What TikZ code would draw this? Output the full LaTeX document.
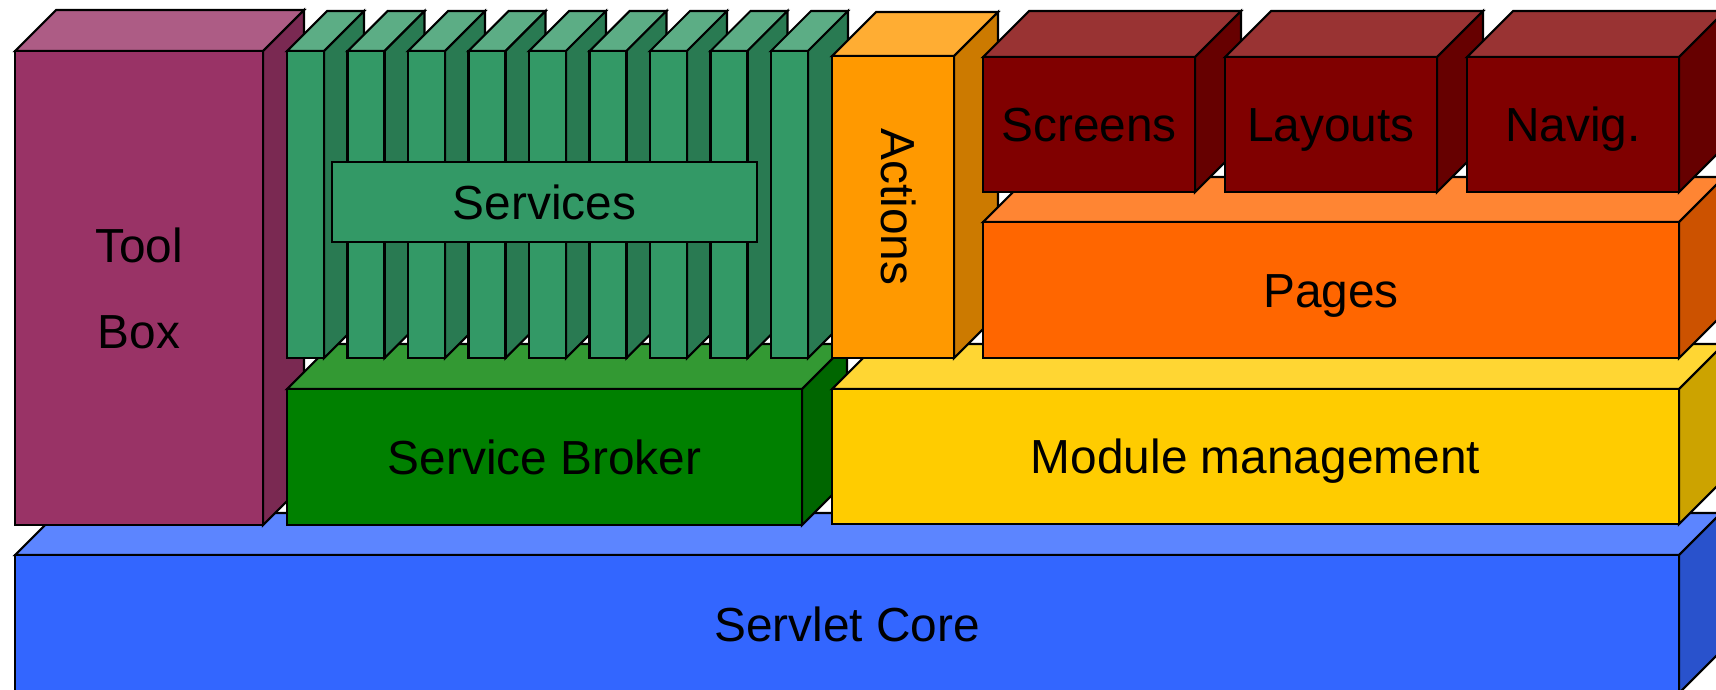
\documentclass[tikz,border=0pt]{standalone}
\usepackage{fontspec}
\setmainfont{Liberation Sans}
\definecolor{corecol}{HTML}{3366FF}
\definecolor{toolcol}{HTML}{993366}
\definecolor{brokercol}{HTML}{008000}
\definecolor{servicecol}{HTML}{339966}
\definecolor{modulecol}{HTML}{FFCC00}
\definecolor{actioncol}{HTML}{FF9900}
\definecolor{pagecol}{HTML}{FF6600}
\definecolor{screencol}{HTML}{800000}
\tikzset{
  face/.style={draw=black, line width=0.6pt},
  front/.style={face, anchor=north west, inner sep=0pt, outer sep=0pt, align=center,
    font=\fontsize{13.6}{16}\selectfont},
  oneline/.style={text height=9.8pt, text depth=0pt}
}
\newcommand{\cube}[9]{%
  \draw[face, fill=#2!80!white] (#3,#4) -- ++(#7,-#7) -- ++(#5,0) -- ++(-#7,#7) -- cycle;
  \draw[face, fill=#2!80!black] (#3+#5,#4) -- ++(#7,-#7) -- ++(0,#6) -- ++(-#7,#7) -- cycle;
  \node[front, fill=#2, minimum width=#5cm, minimum height=#6cm, #8] (#1) at (#3,#4) {#9};
}
\begin{document}
\begin{tikzpicture}[x=1cm, y=-1cm]
\clip (0,0) rectangle (17.16,6.89);
\cube{core}{corecol}{0.15}{5.55}{16.64}{1.38}{0.42}{oneline}{Servlet Core}
\cube{toolbox}{toolcol}{0.15}{0.51}{2.48}{4.74}{0.41}{}{Tool\\[8.5pt]Box}
\cube{broker}{brokercol}{2.87}{3.89}{5.15}{1.36}{0.45}{oneline}{Service Broker}
\cube{module}{modulecol}{8.32}{3.89}{8.47}{1.35}{0.45}{oneline}{Module management}
\foreach \i in {0,...,8}
    \cube{service\i}{servicecol}{2.87+\i*0.605}{0.51}{0.37}{3.07}{0.40}{}{}
\node[front, oneline, fill=servicecol, minimum width=4.25cm, minimum height=0.8cm] (services) at (3.32,1.62) {Services};
\cube{actions}{actioncol}{8.32}{0.56}{1.22}{3.02}{0.44}{}{}
\node[rotate=-90, font=\fontsize{13.6}{16}\selectfont] (actionstext) at ([xshift=1.5pt]actions.center) {Actions};
\cube{pages}{pagecol}{9.83}{2.22}{6.96}{1.36}{0.45}{oneline}{Pages}
\cube{screens}{screencol}{9.83}{0.57}{2.12}{1.35}{0.46}{oneline}{Screens}
\cube{layouts}{screencol}{12.25}{0.57}{2.12}{1.35}{0.46}{oneline}{Layouts}
\cube{navig}{screencol}{14.67}{0.57}{2.12}{1.35}{0.46}{oneline}{Navig.}
\end{tikzpicture}
\end{document}
